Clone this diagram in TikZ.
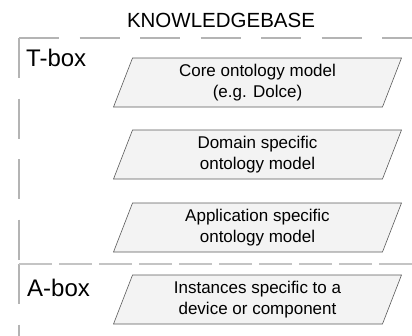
\documentclass[tikz,border=0pt]{standalone}
\usepackage{fontspec}
\setmainfont{Liberation Sans}
\usetikzlibrary{shapes.geometric}
\definecolor{framegray}{HTML}{B4B4B4}
\definecolor{divgray}{HTML}{C4C4C4}
\definecolor{boxedge}{HTML}{5A5A5A}
\definecolor{boxfill}{HTML}{F3F3F3}
\begin{document}
\begin{tikzpicture}[x=1pt,y=-1pt,
  frameline/.style={draw=framegray,line width=1.7pt,dash pattern=on 40pt off 20.5pt},
  divline/.style={draw=divgray,line width=1.7pt,dash pattern=on 33pt off 7pt},
  layerbox/.style={trapezium,trapezium left angle=63,trapezium right angle=117,
    trapezium stretches body,minimum width=288pt,minimum height=49pt,inner sep=0pt,
    draw=boxedge,line width=0.6pt,fill=boxfill,align=center,
    font=\fontsize{17}{21.5}\selectfont},
  boxlabel/.style={anchor=west,font=\fontsize{24}{28}\selectfont,inner sep=0pt},
  title/.style={font=\fontsize{20.5}{24}\selectfont,inner sep=0pt}]
\useasboundingbox (0,0) rectangle (412,335);
\coordinate (tl) at (19,38);
\coordinate (tr) at (420,38);
\coordinate (bl) at (19,345);
\coordinate (dl) at (19,264);
\coordinate (dr) at (420,264);
\draw[frameline] (tl) -- (tr);
\draw[frameline] (tl) -- (dl);
\draw[frameline] (dl) -- (bl);
\draw[divline] (dl) -- (dr);
\node[title] (kb) at (221,20) {KNOWLEDGEBASE};
\node[boxlabel] (tbox) at (26,58) {T-box};
\node[boxlabel] (abox) at (27,288) {A-box};
\node[layerbox] (core) at (257.5,82.5) {Core ontology model\\(e.g. Dolce)};
\node[layerbox] (domain) at (257.5,154.5) {Domain specific\\ontology model};
\node[layerbox] (app) at (257.5,227.5) {Application specific\\ontology model};
\node[layerbox] (inst) at (257.5,299.5) {Instances specific to a\\device or component};
\end{tikzpicture}
\end{document}
